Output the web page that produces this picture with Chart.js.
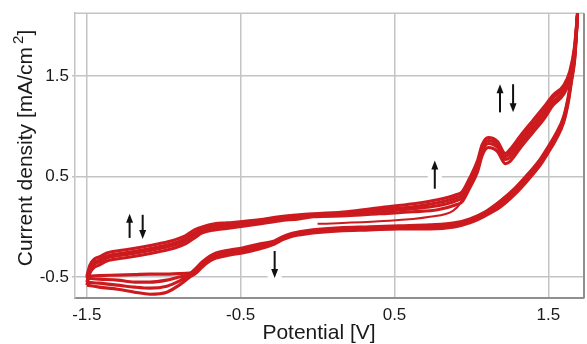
<!DOCTYPE html>
<html>
<head>
<meta charset="utf-8">
<script src="https://cdn.jsdelivr.net/npm/chart.js@4"></script>
<style>
  html, body { margin: 0; padding: 0; background: #fff; }
  #wrap { width: 587px; height: 344px; position: relative; }
</style>
</head>
<body>
<div id="wrap"><canvas id="cvChart"></canvas></div>
<script>
// anodic sweep (-1.5 V -> vertex), shared potential grid
const fwdPotential = [-1.50, -1.48, -1.45, -1.42, -1.37, -1.26, -1.14, -1.04, -0.93, -0.86, -0.80, -0.75, -0.67, -0.59, -0.38, -0.25, -0.12, -0.03, 0.19, 0.40, 0.62, 0.78, 0.90, 0.94, 0.99, 1.04, 1.07, 1.11, 1.17, 1.22, 1.25, 1.32, 1.40, 1.47, 1.53, 1.60, 1.64, 1.67, 1.69];
const fwdCycle1 = [-0.58, -0.46, -0.40, -0.38, -0.34, -0.31, -0.28, -0.25, -0.21, -0.17, -0.11, -0.06, -0.03, -0.015, 0.03, 0.06, 0.08, 0.10, 0.11, 0.13, 0.15, 0.17, 0.22, 0.25, 0.39, 0.55, 0.71, 0.79, 0.75, 0.63, 0.65, 0.79, 0.94, 1.07, 1.21, 1.32, 1.46, 1.70, 2.10];
const fwdCycle2 = [-0.55, -0.43, -0.37, -0.35, -0.31, -0.28, -0.25, -0.22, -0.18, -0.14, -0.08, -0.04, -0.01, 0.005, 0.04, 0.07, 0.09, 0.11, 0.12, 0.15, 0.18, 0.21, 0.26, 0.29, 0.43, 0.59, 0.75, 0.83, 0.79, 0.67, 0.69, 0.83, 0.98, 1.11, 1.24, 1.35, 1.49, 1.73, 2.11];
const fwdCycle3 = [-0.51, -0.41, -0.35, -0.33, -0.29, -0.26, -0.23, -0.20, -0.16, -0.12, -0.06, -0.02, 0.01, 0.02, 0.06, 0.09, 0.11, 0.12, 0.14, 0.17, 0.20, 0.24, 0.29, 0.32, 0.46, 0.62, 0.78, 0.86, 0.82, 0.70, 0.73, 0.87, 1.02, 1.15, 1.28, 1.38, 1.52, 1.76, 2.12];
const fwdCycle4 = [-0.49, -0.38, -0.32, -0.30, -0.26, -0.23, -0.20, -0.17, -0.13, -0.09, -0.03, 0.00, 0.03, 0.04, 0.07, 0.10, 0.12, 0.13, 0.15, 0.19, 0.23, 0.27, 0.32, 0.35, 0.49, 0.66, 0.82, 0.89, 0.85, 0.73, 0.77, 0.91, 1.06, 1.19, 1.31, 1.41, 1.55, 1.79, 2.13];

// cathodic sweep (vertex -> -1.5 V)
const revPotential = [1.69, 1.68, 1.67, 1.65, 1.63, 1.60, 1.55, 1.50, 1.45, 1.37, 1.28, 1.19, 1.09, 0.99, 0.89, 0.73, 0.53, 0.34, 0.14, -0.03, -0.12, -0.18, -0.23, -0.28, -0.38, -0.49, -0.57, -0.66, -0.70, -0.75, -0.79, -0.83, -0.90, -0.98, -1.09, -1.19, -1.30, -1.42, -1.50];
const revCycle1 = [2.10, 1.84, 1.64, 1.44, 1.24, 1.04, 0.87, 0.74, 0.62, 0.47, 0.32, 0.20, 0.11, 0.04, 0.00, -0.02, -0.02, -0.03, -0.04, -0.06, -0.08, -0.10, -0.13, -0.17, -0.22, -0.26, -0.28, -0.31, -0.34, -0.40, -0.46, -0.50, -0.58, -0.65, -0.67, -0.65, -0.62, -0.60, -0.58];
const revCycle2 = [2.11, 1.86, 1.66, 1.46, 1.26, 1.06, 0.89, 0.76, 0.64, 0.49, 0.34, 0.22, 0.12, 0.05, 0.01, -0.01, -0.01, -0.02, -0.03, -0.05, -0.07, -0.09, -0.12, -0.16, -0.20, -0.24, -0.26, -0.29, -0.32, -0.38, -0.44, -0.48, -0.54, -0.59, -0.61, -0.60, -0.58, -0.56, -0.55];
const revCycle3 = [2.12, 1.88, 1.68, 1.48, 1.28, 1.08, 0.91, 0.78, 0.66, 0.51, 0.36, 0.24, 0.14, 0.07, 0.03, 0.01, 0.00, -0.01, -0.02, -0.04, -0.06, -0.08, -0.11, -0.15, -0.19, -0.23, -0.25, -0.28, -0.31, -0.37, -0.42, -0.47, -0.50, -0.53, -0.55, -0.55, -0.53, -0.52, -0.51];
const revCycle4 = [2.13, 1.90, 1.70, 1.50, 1.30, 1.10, 0.93, 0.80, 0.68, 0.53, 0.38, 0.26, 0.15, 0.08, 0.04, 0.02, 0.01, 0.00, -0.01, -0.03, -0.05, -0.07, -0.10, -0.14, -0.17, -0.21, -0.23, -0.26, -0.29, -0.35, -0.41, -0.46, -0.465, -0.47, -0.47, -0.475, -0.48, -0.485, -0.49];

// first sweep starts at open circuit (0 V)
const startPotential = [0.00, 0.40, 0.73, 0.88, 0.93, 0.97];
const startCurrent = [0.03, 0.055, 0.10, 0.16, 0.24, 0.40];

const xTicks = [-1.5, -0.5, 0.5, 1.5];
const yTicks = [-0.5, 0.5, 1.5];

// scan direction markers (head at "to")
const arrowMarks = [
    { x: -1.222, from: -0.11, to: 0.13 },
    { x: -1.137, from: 0.12, to: -0.12 },
    { x: -0.279, from: -0.24, to: -0.51 },
    { x: 0.762, from: 0.38, to: 0.66 },
    { x: 1.186, from: 1.14, to: 1.42 },
    { x: 1.271, from: 1.42, to: 1.14 }
];

const RED = "#cc1a1f";
const FONT = "'Liberation Sans', Arial, sans-serif";

function toPoints(xs, ys) {
    return xs.map((v, i) => ({ x: v, y: ys[i] }));
}

const cycles = [
    [fwdCycle1, revCycle1],
    [fwdCycle2, revCycle2],
    [fwdCycle3, revCycle3],
    [fwdCycle4, revCycle4]
];

const datasets = [];
datasets.push({ data: toPoints(startPotential, startCurrent), borderWidth: 2 });
cycles.forEach(([f, r]) => {
    datasets.push({ data: toPoints(fwdPotential, f) });
    datasets.push({ data: toPoints(revPotential, r) });
});
datasets.forEach(ds => {
    ds.showLine = true;
    ds.borderColor = RED;
    ds.borderWidth = ds.borderWidth || 3.1;
    ds.pointRadius = 0;
    ds.cubicInterpolationMode = "monotone";
    ds.borderJoinStyle = "round";
});

const chartDecor = {
    id: "chartDecor",
    beforeDatasetsDraw(chart) {
        const { ctx, chartArea: a, scales: { x, y } } = chart;
        ctx.save();
        // top and right edges of the frame
        ctx.strokeStyle = "#c4c4c4";
        ctx.lineWidth = 1.5;
        ctx.beginPath();
        ctx.moveTo(a.left, a.top);
        ctx.lineTo(a.right, a.top);
        ctx.stroke();
        ctx.strokeStyle = "#8f8f8f";
        ctx.lineWidth = 2;
        ctx.beginPath();
        ctx.moveTo(a.right, a.top);
        ctx.lineTo(a.right, a.bottom);
        ctx.stroke();

        arrowMarks.forEach(m => {
            const px = x.getPixelForValue(m.x);
            const p0 = y.getPixelForValue(m.from);
            const p1 = y.getPixelForValue(m.to);
            const dir = p1 < p0 ? -1 : 1;
            ctx.fillStyle = "#fff";
            ctx.fillRect(px - 7, Math.min(p0, p1) - 2, 14, Math.abs(p1 - p0) + 4);
            ctx.strokeStyle = "#111";
            ctx.fillStyle = "#111";
            ctx.lineWidth = 2;
            ctx.beginPath();
            ctx.moveTo(px, p0);
            ctx.lineTo(px, p1 - dir * 5);
            ctx.stroke();
            ctx.beginPath();
            ctx.moveTo(px, p1);
            ctx.lineTo(px - 3.5, p1 - dir * 9);
            ctx.lineTo(px + 3.5, p1 - dir * 9);
            ctx.closePath();
            ctx.fill();
        });
        ctx.restore();
    },
    afterDraw(chart) {
        const { ctx } = chart;
        ctx.save();
        ctx.fillStyle = "#1a1a1a";
        ctx.textBaseline = "alphabetic";

        ctx.font = "21px " + FONT;
        ctx.textAlign = "center";
        ctx.fillText("Potential [V]", 319, 339);

        // y title with superscript
        const main = "Current density [mA/cm";
        ctx.translate(32, 148);
        ctx.rotate(-Math.PI / 2);
        ctx.textAlign = "left";
        ctx.font = "21px " + FONT;
        const w1 = ctx.measureText(main).width;
        const w3 = ctx.measureText("]").width;
        ctx.font = "15px " + FONT;
        const w2 = ctx.measureText("2").width + 3;
        let sx = -(w1 + w2 + w3) / 2;
        ctx.font = "21px " + FONT;
        ctx.fillText(main, sx, 0);
        sx += w1 + 3;
        ctx.font = "15px " + FONT;
        ctx.fillText("2", sx, -9);
        sx += w2 - 3;
        ctx.font = "21px " + FONT;
        ctx.fillText("]", sx, 0);
        ctx.restore();
    }
};

new Chart(document.getElementById("cvChart"), {
    type: "scatter",
    data: { datasets: datasets },
    options: {
        responsive: true,
        maintainAspectRatio: false,
        animation: false,
        layout: { padding: { top: 11, right: 3, left: 0, bottom: 0 } },
        plugins: { legend: { display: false }, tooltip: { enabled: false } },
        scales: {
            x: {
                type: "linear",
                min: -1.577,
                max: 1.732,
                afterBuildTicks: s => { s.ticks = xTicks.map(v => ({ value: v })); },
                afterFit: s => { s.height = 46; },
                grid: { color: "#c4c4c4", lineWidth: 1.5, drawTicks: false },
                border: { color: "#8f8f8f", width: 2 },
                ticks: {
                    padding: 7,
                    color: "#1a1a1a",
                    font: { family: FONT, size: 17 },
                    callback: v => String(v)
                }
            },
            y: {
                type: "linear",
                min: -0.708,
                max: 2.127,
                afterBuildTicks: s => { s.ticks = yTicks.map(v => ({ value: v })); },
                afterFit: s => { s.width = 75; },
                grid: { color: "#c4c4c4", lineWidth: 1.5, tickLength: 3 },
                border: { color: "#c4c4c4", width: 1.5 },
                ticks: {
                    padding: 3,
                    color: "#1a1a1a",
                    font: { family: FONT, size: 17 },
                    callback: v => String(v)
                }
            }
        }
    },
    plugins: [chartDecor]
});
</script>
</body>
</html>
